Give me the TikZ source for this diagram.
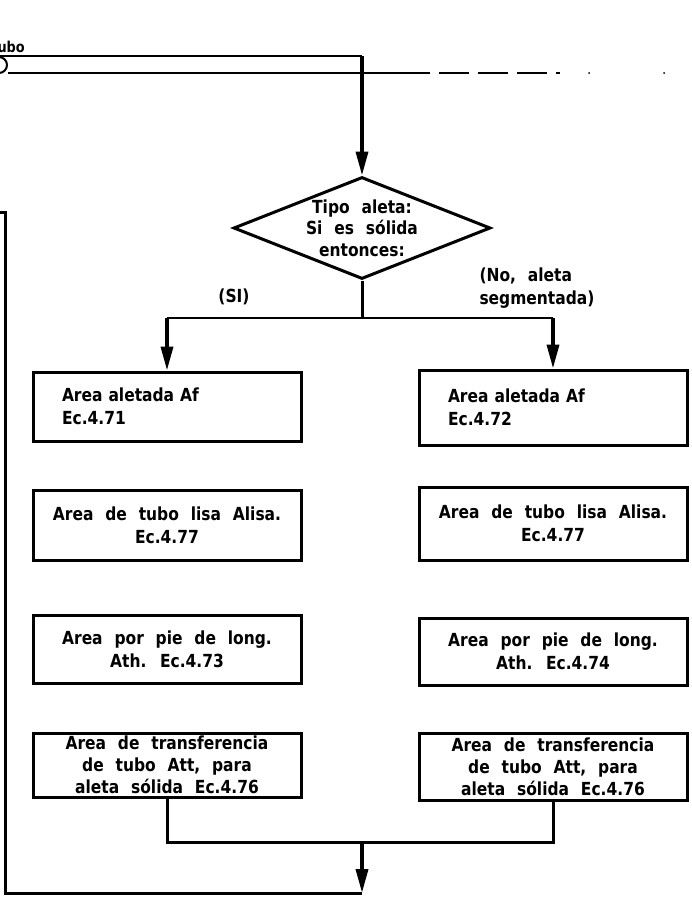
\documentclass[tikz,border=0pt]{standalone}
\usepackage{fontspec}
\setmainfont{DejaVu Sans}[WordSpace=2.2,FakeStretch=0.86]
\usetikzlibrary{arrows.meta,shapes.geometric}
\begin{document}
\begin{tikzpicture}[x=1pt,y=-1pt,
  txt/.style={font=\fontsize{18}{23}\selectfont\bfseries},
  box/.style={txt,draw,line width=3pt,rectangle,inner sep=0pt,align=center,minimum width=268pt},
  lbox/.style={box,align=left,text width=210pt,inner xsep=29pt},
  tallbox/.style={box,font=\fontsize{18}{22}\selectfont\bfseries},
  flow/.style={line width=3pt},
  thinline/.style={line width=2pt},
  arr/.style={line width=3.6pt,-{Triangle[length=24pt,width=12pt]}}]
\useasboundingbox (0,0) rectangle (692,900);
\fill[white] (0,0) rectangle (692,900);

% incoming connection from the previous page
\node[anchor=south east,inner sep=0pt,font=\fontsize{15}{16}\selectfont\bfseries] (tubo) at (25,53) {tubo};
\node[circle,draw,thinline,minimum size=16pt,inner sep=0pt] (con) at (-1,65) {};
\coordinate (ta) at (0,56);
\coordinate (tb) at (362,56);
\draw[thinline] (ta) -- (tb);
\coordinate (la) at (8,73);
\coordinate (lb) at (400,73);
\coordinate (lc) at (560,73);
\draw[thinline] (la) -- (lb);
\draw[thinline,dash pattern=on 30pt off 9pt] (lb) -- (lc);
\fill (589,73) circle (1pt);
\fill (664,73) circle (1pt);

% decision
\node[diamond,draw,line width=3pt,minimum width=257pt,minimum height=102pt,inner sep=0pt] (dec) at (362,228) {};
\node[txt,align=center,font=\fontsize{18}{21.5}\selectfont\bfseries] (dect) at (362,228) {Tipo aleta:\\Si es sólida\\entonces:};
\draw[arr] (tb) -- (dec.north);

% branch labels
\node[txt] (si) at (234,297) {(SI)};
\node[txt,align=left,anchor=west] (no) at (476,288) {(No, aleta\\segmentada)};

% left column
\node[lbox,minimum height=69pt] (l1) at (167,406.5) {Area aletada Af\\Ec.4.71};
\node[box,minimum height=70pt] (l2) at (167,525) {Area de tubo lisa Alisa.\\Ec.4.77};
\node[box,minimum height=68pt] (l3) at (167,649) {Area por pie de long.\\Ath. Ec.4.73};
\node[tallbox,minimum height=64pt] (l4) at (167,765) {Area de transferencia\\de tubo Att, para\\aleta sólida Ec.4.76};

% right column
\node[lbox,minimum height=75pt] (r1) at (553,407.5) {Area aletada Af\\Ec.4.72};
\node[box,minimum height=73pt] (r2) at (553,523.5) {Area de tubo lisa Alisa.\\Ec.4.77};
\node[box,minimum height=67pt] (r3) at (553,651.5) {Area por pie de long.\\Ath. Ec.4.74};
\node[tallbox,minimum height=67pt] (r4) at (553,766.5) {Area de transferencia\\de tubo Att, para\\aleta sólida Ec.4.76};

% split below the decision
\coordinate (br) at (362,318);
\coordinate (bl) at (167,318);
\coordinate (bR) at (553,318);
\draw[flow] (dec.south) -- (br);
\draw[thinline] (bl) -- (bR);
\draw[arr] (bl) -- (l1.north);
\draw[arr] (bR) -- (r1.north);

% join and return loop
\coordinate (jn) at (362,842);
\coordinate (lp) at (362,893);
\coordinate (lq) at (5,893);
\coordinate (lr) at (5,212);
\coordinate (ls) at (0,212);
\draw[flow] (l4.south) |- (jn);
\draw[flow] (r4.south) |- (jn);
\draw[arr] (jn) -- (lp);
\draw[flow] (lp) -- (lq) -- (lr) -- (ls);
\end{tikzpicture}
\end{document}
